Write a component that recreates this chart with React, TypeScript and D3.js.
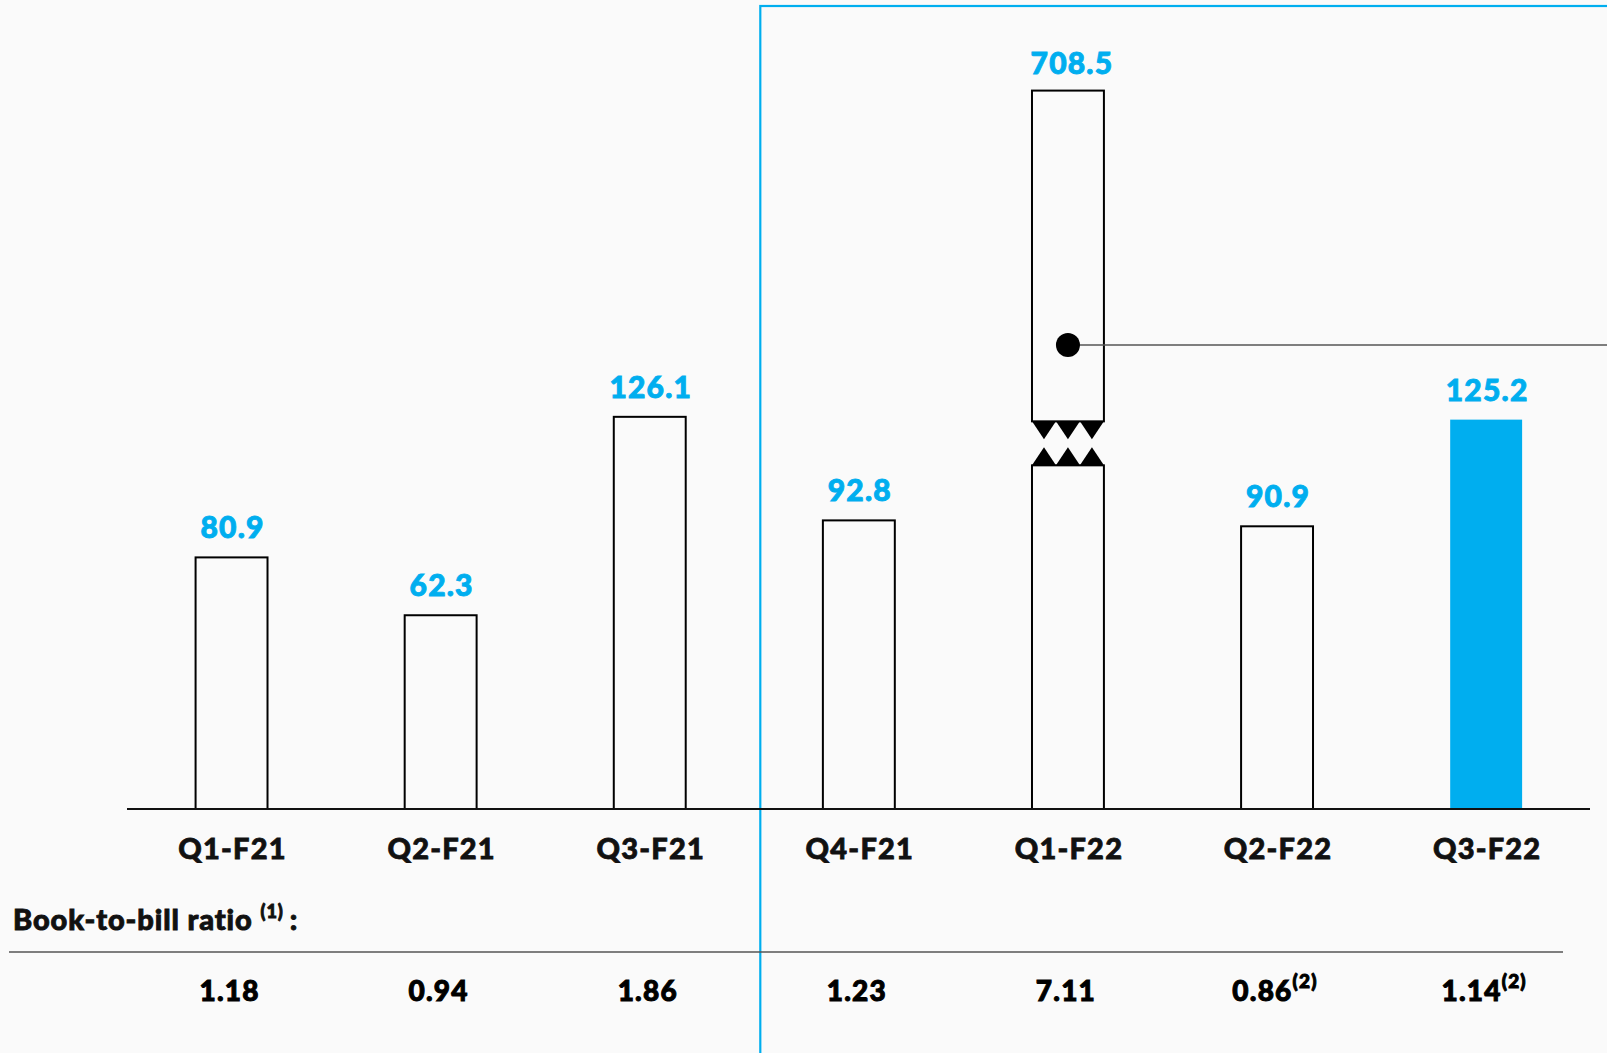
import React from 'react';
import * as d3 from 'd3';

const categories = ['Q1-F21', 'Q2-F21', 'Q3-F21', 'Q4-F21', 'Q1-F22', 'Q2-F22', 'Q3-F22'];
const bookings = [80.9, 62.3, 126.1, 92.8, 708.5, 90.9, 125.2];
const ratios = ['1.18', '0.94', '1.86', '1.23', '7.11', '0.86', '1.14'];
const ratioNotes = ['', '', '', '', '', '(2)', '(2)'];
const highlighted = 'Q3-F22';
const brokenCategory = 'Q1-F22';
const firstBoxed = 'Q4-F21';

const W = 1607;
const H = 1053;
const BLUE = '#00AEEF';
const BG = '#FAFAFA';
const FONT = 'Lato, "Open Sans", sans-serif';

// broken-axis settings for the oversized bar
const BREAK_LOW = 110.5; // value where the lower segment stops
const BREAK_GAP = 44; // px gap between segments
const DISPLAY_TOP = 231; // value used for drawing the top of the broken bar

export default function App() {
  const x = d3
    .scaleBand<string>()
    .domain(categories)
    .range([127, 1590.7])
    .paddingInner(0.656)
    .paddingOuter(0.328);
  const y = d3.scaleLinear().domain([0, 100]).range([809, 498]);
  const bw = x.bandwidth();
  const base = y(0);

  const boxX = (x(firstBoxed) as number) - (x.step() - bw) / 2 + 6;

  const valueStyle = {
    fill: BLUE,
    fontSize: 30,
    fontWeight: 900,
    stroke: BLUE,
    strokeWidth: 0.9,
    letterSpacing: 1.2,
  } as const;

  return (
    <svg
      width={W}
      height={H}
      style={{ position: 'absolute', left: 0, top: 0, display: 'block' }}
      fontFamily={FONT}
    >
      <rect x={0} y={0} width={W} height={H} fill={BG} />

      {/* blue frame around the current period */}
      <rect x={boxX} y={6} width={W} height={H} fill="none" stroke={BLUE} strokeWidth={2.2} />

      {/* bars */}
      {categories.map((c, i) => {
        const v = bookings[i];
        const x0 = x(c) as number;
        const cx = x0 + bw / 2;
        if (c === brokenCategory) {
          const lowTop = y(BREAK_LOW);
          const upBottom = lowTop - BREAK_GAP;
          const upTop = y(DISPLAY_TOP);
          const tri = bw / 3;
          const th = 18;
          const dotY = upTop + (upBottom - upTop) * 0.769;
          return (
            <g key={c}>
              <rect x={x0} y={lowTop} width={bw} height={base - lowTop} fill="none" stroke="#000" strokeWidth={2} />
              <rect x={x0} y={upTop} width={bw} height={upBottom - upTop} fill="none" stroke="#000" strokeWidth={2} />
              {[0, 1, 2].map((k) => (
                <path
                  key={'d' + k}
                  d={`M${x0 + k * tri},${upBottom} L${x0 + (k + 1) * tri},${upBottom} L${x0 + (k + 0.5) * tri},${upBottom + th} Z`}
                  fill="#000"
                />
              ))}
              {[0, 1, 2].map((k) => (
                <path
                  key={'u' + k}
                  d={`M${x0 + k * tri},${lowTop} L${x0 + (k + 1) * tri},${lowTop} L${x0 + (k + 0.5) * tri},${lowTop - th} Z`}
                  fill="#000"
                />
              ))}
              <line x1={cx} x2={W} y1={dotY} y2={dotY} stroke="#555" strokeWidth={1.5} />
              <circle cx={cx} cy={dotY} r={12} fill="#000" />
              <text x={cx + 4} y={upTop - 17} textAnchor="middle" style={valueStyle}>
                {v.toFixed(1)}
              </text>
            </g>
          );
        }
        const top = y(v);
        const hi = c === highlighted;
        return (
          <g key={c}>
            <rect
              x={x0}
              y={top}
              width={bw}
              height={base - top}
              fill={hi ? BLUE : 'none'}
              stroke={hi ? 'none' : '#000'}
              strokeWidth={2}
            />
            <text x={cx + 1} y={top - 19} textAnchor="middle" style={valueStyle}>
              {v.toFixed(1)}
            </text>
          </g>
        );
      })}

      {/* baseline */}
      <line x1={127} x2={1590} y1={base} y2={base} stroke="#111" strokeWidth={2} />

      {/* category labels */}
      {categories.map((c) => (
        <text
          key={'l' + c}
          x={(x(c) as number) + bw / 2 + 1}
          y={859}
          textAnchor="middle"
          fontSize={29}
          fontWeight={900}
          fill="#111"
          stroke="#111"
          strokeWidth={0.8}
          letterSpacing={1.2}
        >
          {c}
        </text>
      ))}

      {/* book-to-bill table */}
      <text
        x={13}
        y={930}
        fontSize={29}
        fontWeight={900}
        fill="#111"
        stroke="#111"
        strokeWidth={0.9}
        letterSpacing={0.9}
      >
        Book-to-bill ratio
        <tspan fontSize={18} dy={-12} dx={8}>(1)</tspan>
        <tspan dy={12} dx={6}>:</tspan>
      </text>
      <line x1={9} x2={1563} y1={952} y2={952} stroke="#555" strokeWidth={1.5} />
      {categories.map((c, i) => (
        <text
          key={'r' + c}
          x={(x(c) as number) + bw / 2 - 2}
          y={1001}
          textAnchor="middle"
          fontSize={28}
          fontWeight={900}
          fill="#000"
          stroke="#000"
          strokeWidth={1}
          letterSpacing={1.2}
        >
          {ratios[i]}
          {ratioNotes[i] ? (
            <tspan fontSize={19} dy={-13} dx={0}>
              {ratioNotes[i]}
            </tspan>
          ) : null}
        </text>
      ))}
    </svg>
  );
}
